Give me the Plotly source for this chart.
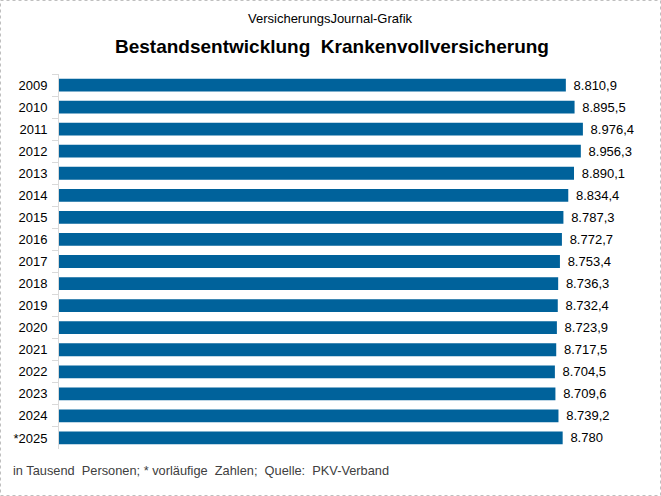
import plotly.graph_objects as go

years = ["2009", "2010", "2011", "2012", "2013", "2014", "2015", "2016", "2017",
         "2018", "2019", "2020", "2021", "2022", "2023", "2024", "*2025"]
values = [8810.9, 8895.5, 8976.4, 8956.3, 8890.1, 8834.4, 8787.3, 8772.7, 8753.4,
          8736.3, 8732.4, 8723.9, 8717.5, 8704.5, 8709.6, 8739.2, 8780.0]
labels = ["8.810,9", "8.895,5", "8.976,4", "8.956,3", "8.890,1", "8.834,4", "8.787,3",
          "8.772,7", "8.753,4", "8.736,3", "8.732,4", "8.723,9", "8.717,5", "8.704,5",
          "8.709,6", "8.739,2", "8.780"]

W, H = 661, 496
ML, MR, MT, MB = 59, 21, 74, 47
FONT = "Liberation Sans, Arial, sans-serif"

fig = go.Figure()
fig.add_trace(go.Bar(
    x=values, y=years, orientation="h",
    marker=dict(color="#00629B", line=dict(width=0)),
    text=["\u00a0\u200a" + t for t in labels],
    textposition="outside", cliponaxis=False, constraintext="none",
    textfont=dict(family=FONT, size=13, color="#000000"),
    hoverinfo="skip",
))

pw = W - ML - MR
ph = H - MT - MB
fig.update_layout(
    width=W, height=H,
    margin=dict(l=ML, r=MR, t=MT, b=MB, pad=0),
    paper_bgcolor="white", plot_bgcolor="white",
    showlegend=False, bargap=0.42,
    font=dict(family=FONT, size=13, color="#000000"),
    xaxis=dict(range=[3890, 3890 + pw / 0.103], visible=False, fixedrange=True),
    yaxis=dict(autorange="reversed", showline=True, linecolor="#D9D9D9", linewidth=1,
               ticks="outside", ticklen=6, tickcolor="#D9D9D9", tickson="boundaries",
               showgrid=False, tickfont=dict(family=FONT, size=13, color="#000000"),
               ticklabelstandoff=8, fixedrange=True),
    annotations=[
        dict(text="VersicherungsJournal-Grafik", xref="paper", yref="paper",
             x=(W / 2 - ML) / pw, y=1 + (MT - 18) / ph, xanchor="center", yanchor="middle",
             showarrow=False, font=dict(family=FONT, size=13, color="#000000")),
        dict(text="<b>Bestandsentwicklung\u00a0 Krankenvollversicherung</b>", xref="paper", yref="paper",
             x=(W / 2 - ML + 1) / pw, y=1 + (MT - 47) / ph, xanchor="center", yanchor="middle",
             showarrow=False, font=dict(family=FONT, size=19, color="#000000")),
        dict(text="in Tausend\u00a0 Personen; * vorläufige\u00a0 Zahlen;\u00a0 Quelle:\u00a0 PKV-Verband",
             xref="paper", yref="paper",
             x=(11 - ML) / pw, y=-(470 - (H - MB)) / ph, xanchor="left", yanchor="middle",
             showarrow=False, font=dict(family=FONT, size=12.8, color="#404040")),
    ],
    shapes=[
        dict(type="rect", xref="paper", yref="paper",
             x0=(0.5 - ML) / pw, x1=(W - 0.5 - ML) / pw,
             y0=-(MB - 0.5) / ph, y1=1 + (MT - 0.5) / ph,
             line=dict(color="#BFBFBF", width=1, dash="dot"), layer="below"),
    ],
)

fig.write_html("out.html", config={"displayModeBar": False, "staticPlot": True},
               post_script="document.body.style.margin='0';document.body.style.overflow='hidden';")
